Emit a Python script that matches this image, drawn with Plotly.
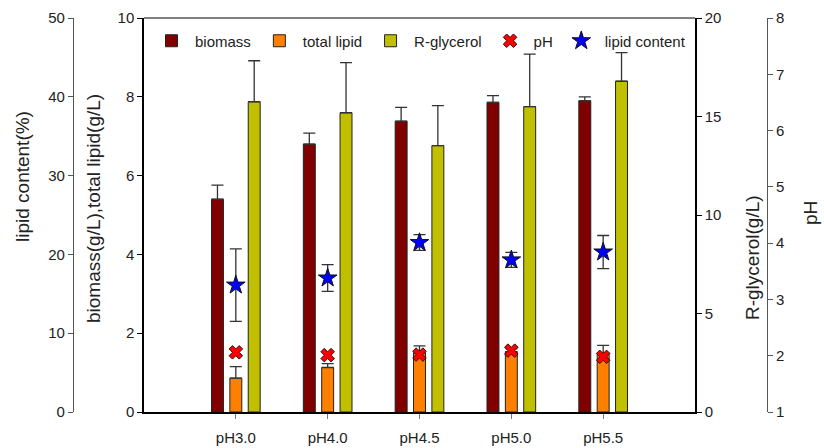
import plotly.graph_objects as go

categories = ["pH3.0", "pH4.0", "pH4.5", "pH5.0", "pH5.5"]
biomass = [5.40, 6.80, 7.38, 7.86, 7.90]
biomass_err = [0.36, 0.28, 0.35, 0.17, 0.10]
total_lipid = [0.86, 1.13, 1.50, 1.53, 1.49]
total_lipid_err = [0.29, 0.10, 0.18, 0.08, 0.20]
r_glycerol = [15.75, 15.19, 13.52, 15.50, 16.79]
r_glycerol_err = [2.08, 2.54, 2.03, 2.67, 1.45]
lipid_content = [16.1, 17.0, 21.5, 19.3, 20.3]
lipid_content_err = [4.6, 1.7, 1.0, 0.95, 2.1]
ph_values = [2.06, 2.01, 2.02, 2.09, 1.98]

W, H = 824, 448
L, R, T, B = 144, 695, 18, 412
xs = list(range(len(categories)))
zeros = [0] * len(categories)
FONT = "Arial, Liberation Sans, sans-serif"
TXT = "#222222"

def px(x):
    return x / W

def py(y):
    return (B - y) / (B - T)

bw = 0.13
edge = dict(color="#222222", width=1)
eb_bar = dict(type="data", symmetric=False, color="#333333", thickness=1.3, width=6)

fig = go.Figure()
fig.add_trace(go.Bar(
    x=xs, y=biomass, name="biomass", yaxis="y", width=bw, offset=-0.2 - bw / 2,
    marker=dict(color="#800000", line=edge),
    error_y=dict(eb_bar, array=biomass_err, arrayminus=zeros)))
fig.add_trace(go.Bar(
    x=xs, y=total_lipid, name="total lipid", yaxis="y", width=bw, offset=-bw / 2,
    marker=dict(color="#FF8000", line=edge),
    error_y=dict(eb_bar, array=total_lipid_err, arrayminus=zeros)))
fig.add_trace(go.Bar(
    x=xs, y=r_glycerol, name="R-glycerol", yaxis="y3", width=bw, offset=0.2 - bw / 2,
    marker=dict(color="#C0C000", line=edge),
    error_y=dict(eb_bar, array=r_glycerol_err, arrayminus=zeros)))
fig.add_trace(go.Scatter(
    x=xs, y=ph_values, name="pH", yaxis="y4", mode="markers",
    marker=dict(symbol="x", size=12, color="#FF0000", line=dict(color="#331111", width=1))))
fig.add_trace(go.Scatter(
    x=xs, y=lipid_content, name="lipid content", yaxis="y2", mode="markers",
    marker=dict(symbol="star", size=14, color="#0000FF", line=dict(color="#111111", width=1)),
    error_y=dict(type="data", array=lipid_content_err, color="#333333", thickness=1.3, width=6)))

tickfont = dict(family=FONT, size=15, color=TXT)
common_y = dict(showgrid=False, zeroline=False, showline=True, ticks="outside",
                ticklen=5, tickfont=tickfont, automargin=False, fixedrange=True)

fig.update_layout(
    width=W, height=H,
    margin=dict(l=0, r=0, t=T, b=H - B, pad=0),
    paper_bgcolor="white", plot_bgcolor="white",
    barmode="overlay",
    showlegend=True,
    legend=dict(orientation="h", x=px(148), xanchor="left", y=py(41), yanchor="middle",
                font=dict(family=FONT, size=15, color=TXT), bgcolor="rgba(0,0,0,0)",
                itemwidth=37, traceorder="normal"),
    xaxis=dict(domain=[px(L), px(R)], range=[-1, 5], tickvals=xs, ticktext=categories,
               showgrid=False, zeroline=False, showline=True, linecolor="black", linewidth=2,
               ticks="outside", ticklen=5, tickcolor="#777777", tickfont=tickfont,
               ticklabelstandoff=6, automargin=False, fixedrange=True),
    yaxis=dict(common_y, range=[0, 10], dtick=2, linecolor="black", linewidth=1.5,
               tickcolor="black"),
    yaxis2=dict(common_y, overlaying="y", anchor="free", position=px(73), side="left",
                range=[0, 50], dtick=10, linecolor="#555555", linewidth=1.2, tickcolor="#555555"),
    yaxis3=dict(common_y, overlaying="y", anchor="x", side="right",
                range=[0, 20], dtick=5, linecolor="black", linewidth=1.5, tickcolor="black"),
    yaxis4=dict(common_y, overlaying="y", anchor="free", position=px(767), side="right",
                range=[1, 8], dtick=1, linecolor="#555555", linewidth=1.2, tickcolor="#555555"),
    shapes=[dict(type="line", xref="x domain", yref="y domain", x0=0, x1=1, y0=1, y1=1,
                 line=dict(color="black", width=1))],
)

titles = [
    ("lipid content(%)", 22, 177),
    ("biomass(g/L),total lipid(g/L)", 94, 209),
    ("R-glycerol(g/L)", 752, 258),
    ("pH", 810, 213),
]
for text, x, y in titles:
    fig.add_annotation(text=text, x=px(x), y=py(y), xref="paper", yref="paper",
                       textangle=-90, showarrow=False, xanchor="center", yanchor="middle",
                       borderpad=0, font=dict(family=FONT, size=19, color=TXT))

fig.write_html("out.html")
